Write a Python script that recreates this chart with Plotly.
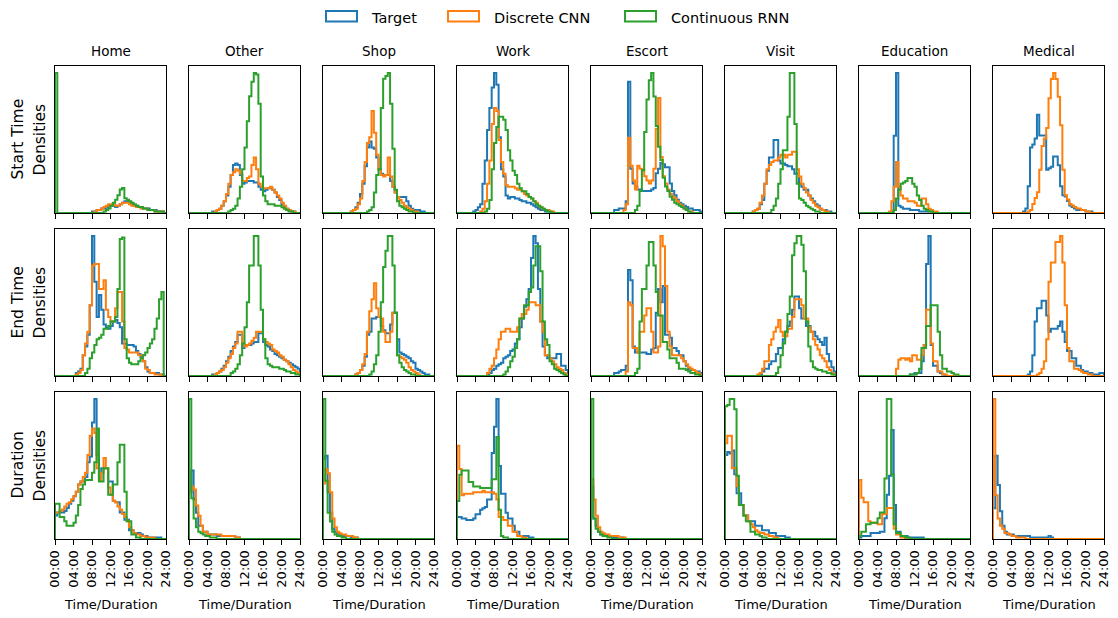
import plotly.graph_objects as go

# ---------------- data (30-minute bins, 48 bins over 0-24 h) ----------------
N_BINS = 48
BIN_HOURS = 0.5
COLUMNS = ["Home", "Other", "Shop", "Work", "Escort", "Visit", "Education", "Medical"]
ROWS = ["Start Time", "End Time", "Duration"]
ROW_SUB = "Densities"
SERIES = ["Target", "Discrete CNN", "Continuous RNN"]
COLORS = ["#1f77b4", "#ff7f0e", "#2ca02c"]
TICK_HOURS = [0, 4, 8, 12, 16, 20, 24]
TICK_LABELS = ["00:00", "04:00", "08:00", "12:00", "16:00", "20:00", "24:00"]
X_TITLE = "Time/Duration"


def bins(*chunks):
    """Histogram counts: each chunk is (first bin index, list of read values)."""
    v = [0] * N_BINS
    for start, vals in chunks:
        for k, val in enumerate(vals):
            v[start + k] = val
    return v


# ---- Start time ----
START_HOME_T = bins((16, [1,1,2,2,3,3,4,5,5,5,4,5,6,7,8,8,7,6,5,5,4,4,3,3,3,2,2,2,1,1,1]))
START_HOME_D = bins((17, [1,2,2,3,4,5,6,6,6,5,5,6,7,7,7,6,5,5,4,4,3,3,3,2,2,2,1,1,1,1]))
START_HOME_R = bins((0, [95]), (21, [1,2,3,5,7,9,12,16,17,10,9,8,7,6,5,4,4,3,3,2,2,2,1,1,1,1]))

START_OTHER_T = bins((10, [1,1,2,3,5,8,12,18,26,33,34,33,26,20,21,22,22,22,21,21,18,16,15,16,17,17,16,14,11,9,6,4,3,2,1,1]))
START_OTHER_D = bins((11, [1,2,3,5,8,13,20,26,28,30,29,27,22,22,24,25,33,38,30,20,18,17,17,17,18,16,14,12,10,7,5,3,2,1,1]))
START_OTHER_R = bins((17, [1,2,3,5,10,18,30,45,63,80,90,96,95,75,25,12,8,6,6,6,5,5,5,4,3,2,1,1]))

START_SHOP_T = bins((12, [1,2,4,7,13,20,32,45,49,45,44,38,30,27,26,26,26,22,18,14,11,11,11,11,8,5,3,2,2,2,1,1]))
START_SHOP_D = bins((12, [1,2,3,6,10,22,35,48,52,70,55,40,30,26,25,26,38,25,18,14,11,9,7,5,4,3,2,1,1]))
START_SHOP_R = bins((19, [1,2,4,14,26,30,72,92,94,96,75,44,16,8,5,4,3,2,1,1]))

START_WORK_T = bins((7, [1,2,4,6,20,36,57,72,86,96,88,52,30,25,12,10,11,11,10,10,9,8,8,7,7,6,5,4,3,2,2,1,1]))
START_WORK_D = bins((10, [1,3,8,20,36,61,72,70,50,35,27,19,18,18,18,17,16,16,15,13,12,11,10,8,7,5,4,3,2,2,1,1]))
START_WORK_R = bins((12, [1,3,9,30,48,59,66,66,64,57,43,36,29,26,20,17,15,15,13,11,10,8,6,5,4,3,2,1,1]))

START_ESCORT_T = bins((10, [2,2,3,3,3,8,89,30,20,18,16,16,15,15,15,15,16,17,27,30,34,33,31,31,20,15,12,9,7,6,5,4,3,3,2,2,2,1]))
START_ESCORT_D = bins((14, [2,6,51,32,22,16,32,30,29,25,22,20,22,30,57,78,38,25,20,16,13,11,10,8,6,5,3,2,1,1]))
START_ESCORT_R = bins((19, [2,5,15,29,55,77,90,95,79,59,45,36,24,18,15,11,9,7,6,5,4,3,2,1]))

START_VISIT_T = bins((12, [1,2,3,6,9,20,29,38,38,50,50,36,34,34,33,32,32,30,27,27,20,18,16,16,12,10,8,6,5,3,2,2,1,1]))
START_VISIT_D = bins((12, [1,2,3,7,12,20,30,33,35,36,36,38,40,40,38,40,40,42,42,30,25,20,17,14,12,9,7,5,4,3,2,1,1]))
START_VISIT_R = bins((20, [2,5,10,20,30,43,43,66,96,96,61,20,10,9,7,5,4,3,2,1,1]))

START_EDU_T = bins((14, [1,53,96,5,4,3,3,3,2,2,2,2,1,1,1,1,1,1]))
START_EDU_D = bins((13, [1,8,18,35,18,12,10,10,8,8,8,7,5,5,10,10,6,3,2,1,1]))
START_EDU_R = bins((15, [2,10,16,20,21,22,24,24,20,18,12,9,5,3,2,1,1]))

START_MED_T = bins((13, [1,3,18,44,46,50,66,52,52,52,29,30,31,38,38,32,18,12,11,8,5,4,3,2,2,2,2,1,1,1]))
START_MED_D = bins((15, [1,2,6,10,14,29,45,50,57,77,90,94,90,78,59,29,12,9,6,5,4,3,3,2,2,1,1]))

# ---- End time ----
END_HOME_T = bins((9, [2,3,5,14,20,28,48,95,64,40,55,45,35,33,32,34,37,38,36,33,22,22,21,21,21,20,17,15,13,10,6,3,2,2,2,2,1,1]))
END_HOME_D = bins((9, [1,2,4,14,22,30,48,75,76,76,59,59,65,45,40,37,37,46,57,57,37,19,18,16,16,16,16,14,14,10,5,4,2,2,1,1,1]))
END_HOME_R = bins((13, [2,5,12,16,21,25,26,28,32,32,34,37,37,40,59,93,94,25,12,9,8,8,8,10,12,14,16,19,22,25,32,39,52,57]))

END_OTHER_T = bins((10, [1,1,2,3,5,7,10,13,17,20,23,28,28,19,21,21,21,22,23,23,29,29,23,21,20,18,17,15,14,13,12,11,10,9,8,7,6,5]))
END_OTHER_D = bins((11, [1,2,3,4,6,9,12,15,19,22,30,30,22,20,21,22,24,26,30,30,30,25,23,22,21,18,17,16,14,13,11,10,8,6,4,3,2]))
END_OTHER_R = bins((18, [2,3,5,8,14,22,33,50,75,75,95,95,75,45,25,12,8,7,6,6,6,5,5,4,3,3,2,2,1,1]))

END_SHOP_T = bins((14, [1,2,4,7,13,28,30,39,39,40,40,34,31,29,29,35,43,43,25,16,15,14,13,12,10,9,5,4,3,2,1,1]))
END_SHOP_D = bins((14, [1,2,4,8,15,30,44,52,63,46,40,39,30,23,23,30,43,43,14,13,12,11,9,6,4,3,2,1]))
END_SHOP_R = bins((20, [1,3,8,14,30,50,74,85,95,95,75,43,14,9,6,4,3,2,1,1]))

END_WORK_T = bins((13, [1,2,4,5,7,8,9,12,13,14,17,18,22,25,33,39,47,52,59,80,95,90,59,37,20,14,12,12,12,12,15,15,7,7,4]))
END_WORK_D = bins((13, [2,5,7,12,18,25,30,30,32,32,30,30,30,33,39,42,42,45,50,50,50,48,48,37,30,14,14,12,10,8,6,5,4,2,1]))
END_WORK_R = bins((20, [1,3,6,10,13,19,25,39,39,48,48,57,60,75,88,88,71,37,25,21,10,8,5,4,3,2,1]))

END_ESCORT_T = bins((10, [2,2,3,4,4,7,72,65,20,16,16,16,16,16,15,15,18,19,43,59,50,61,28,28,26,19,19,17,14,14,10,7,5,4,4,3,3,2]))
END_ESCORT_D = bins((15, [3,50,48,19,19,16,30,30,41,46,46,30,16,16,20,95,88,61,30,20,14,14,14,14,12,10,8,6,5,4,3,2,1]))
END_ESCORT_R = bins((19, [2,5,37,59,59,75,91,91,75,57,41,41,23,23,18,12,12,12,9,5,5,5,4,3,2,2,1,1]))

END_VISIT_T = bins((15, [1,3,5,5,8,10,10,15,19,19,25,30,34,37,45,54,54,46,39,39,34,34,30,30,27,25,23,21,26,15,10,6,3]))
END_VISIT_D = bins((14, [1,2,5,10,10,21,25,30,33,38,30,27,27,32,32,40,52,52,52,48,39,39,33,30,25,21,18,14,12,10,6,4,2,1]))
END_VISIT_R = bins((22, [2,6,14,22,30,42,54,82,90,95,95,89,71,37,20,10,6,5,4,4,3,3,2,2,1,1]))

END_EDU_T = bins((22, [1,1,2,2,2,10,21,76,95,21,7,7,3,2,1]))
END_EDU_D = bins((16, [5,11,12,12,11,12,10,14,14,11,11,14,21,45,45,22,10,10,3,3,1,1]))
END_EDU_R = bins((22, [1,1,1,2,5,19,19,34,34,48,48,48,30,14,5,5,3,3,2,1,1]))

END_MED_T = bins((15, [1,3,14,37,46,46,51,51,41,30,32,32,32,34,37,30,23,17,17,12,12,7,7,4,3,3,2,2,1,1,1,2,2]))
END_MED_D = bins((19, [1,2,5,10,25,64,77,77,91,91,95,77,48,19,10,10,5,5,4,3,2,2,1,1]))

# ---- Duration ----
DUR_HOME_T = bins((0, [16,18,18,18,19,21,24,26,29,32,37,39,39,42,52,56,79,95,57,41,48,48,48,39,39,26,25,25,18,18,13,13,6,6,4,4,4,3,2,2,1,1,1,1,1,1]))
DUR_HOME_D = bins((0, [18,18,19,20,22,24,25,27,29,32,37,39,42,45,57,70,75,72,48,40,45,55,48,35,30,26,25,22,20,17,15,12,8,6,4,3,3,2,2,1,1,1,1]))
DUR_HOME_R = bins((0, [24,24,15,15,12,9,9,9,11,16,23,34,37,40,40,40,45,52,75,39,39,48,48,30,30,37,37,52,64,64,32,12,12,3,3,1,1]))

DUR_OTHER_T = bins((0, [32,47,27,18,9,9,5,5,3,3,3,3,2,2,2,2,2,2,2,2,1,1]))
DUR_OTHER_D = bins((0, [32,36,34,23,16,9,5,5,3,3,3,3,3,3,2,2,2,2,2,2,1,1]))
DUR_OTHER_R = bins((0, [96,28,14,8,5,4,3,2,2,1,1,1]))

DUR_SHOP_T = bins((0, [55,57,32,18,7,5,4,3,2,2,2,2,1,1,1]))
DUR_SHOP_D = bins((0, [38,48,45,32,14,8,5,4,3,3,2,2,2,1,1]))
DUR_SHOP_R = bins((0, [96,40,18,12,5,3,2,2,1,1]))

DUR_WORK_T = bins((0, [15,15,14,14,13,13,13,14,17,17,20,21,22,27,27,59,77,96,50,31,31,18,14,14,9,5,5,2,2,2,2,1,1]))
DUR_WORK_D = bins((0, [64,48,30,31,31,31,31,32,32,32,32,33,32,32,32,32,31,27,15,15,13,13,9,9,5,5,2,2,1,1]))
DUR_WORK_R = bins((0, [26,44,47,47,47,39,39,36,36,36,35,35,35,35,35,41,41,70,20,2,1,1]))

DUR_ESCORT_T = bins((0, [36,14,9,5,3,3,2,2,2,1,1,1,1,1]))
DUR_ESCORT_D = bins((0, [41,27,16,8,5,4,3,3,2,2,2,2,1,1,1]))
DUR_ESCORT_R = bins((0, [96,14,7,5,3,2,2,1,1]))

DUR_VISIT_T = bins((0, [57,59,58,60,44,31,31,23,16,16,12,12,12,9,9,9,6,6,6,4,4,4,2,2,2,2,1,1]))
DUR_VISIT_D = bins((0, [65,70,70,48,48,36,23,23,16,16,12,10,8,6,5,4,4,3,3,2,2,1,1]))
DUR_VISIT_R = bins((0, [90,91,95,95,88,43,23,23,16,12,12,5,5,3,3,2,1,1]))

DUR_EDU_T = bins((0, [1,2,2,2,2,4,4,4,4,5,5,14,30,43,74,23,5,5,2,2,2,1,1,1,1,1,1,1]))
DUR_EDU_D = bins((0, [40,28,25,25,12,11,11,11,10,10,17,17,21,21,21,7,3,3,1,1]))
DUR_EDU_R = bins((0, [2,5,5,10,10,11,11,11,14,18,18,41,95,95,44,10,4,4,2,2,1,1]))

DUR_MED_T = bins((0, [21,57,37,19,9,5,3,3,3,2,2,2,2,2,2,2,1,1,1,1,1,1,1,1,2,1]))
DUR_MED_D = bins((0, [96,30,14,9,7,4,4,3,2,2,1,1,1,1]))

PANELS = [
    [  # start
        (START_HOME_T, START_HOME_D, START_HOME_R),
        (START_OTHER_T, START_OTHER_D, START_OTHER_R),
        (START_SHOP_T, START_SHOP_D, START_SHOP_R),
        (START_WORK_T, START_WORK_D, START_WORK_R),
        (START_ESCORT_T, START_ESCORT_D, START_ESCORT_R),
        (START_VISIT_T, START_VISIT_D, START_VISIT_R),
        (START_EDU_T, START_EDU_D, START_EDU_R),
        (START_MED_T, START_MED_D, None),
    ],
    [  # end
        (END_HOME_T, END_HOME_D, END_HOME_R),
        (END_OTHER_T, END_OTHER_D, END_OTHER_R),
        (END_SHOP_T, END_SHOP_D, END_SHOP_R),
        (END_WORK_T, END_WORK_D, END_WORK_R),
        (END_ESCORT_T, END_ESCORT_D, END_ESCORT_R),
        (END_VISIT_T, END_VISIT_D, END_VISIT_R),
        (END_EDU_T, END_EDU_D, END_EDU_R),
        (END_MED_T, END_MED_D, None),
    ],
    [  # duration
        (DUR_HOME_T, DUR_HOME_D, DUR_HOME_R),
        (DUR_OTHER_T, DUR_OTHER_D, DUR_OTHER_R),
        (DUR_SHOP_T, DUR_SHOP_D, DUR_SHOP_R),
        (DUR_WORK_T, DUR_WORK_D, DUR_WORK_R),
        (DUR_ESCORT_T, DUR_ESCORT_D, DUR_ESCORT_R),
        (DUR_VISIT_T, DUR_VISIT_D, DUR_VISIT_R),
        (DUR_EDU_T, DUR_EDU_D, DUR_EDU_R),
        (DUR_MED_T, DUR_MED_D, None),
    ],
]

# ---------------- layout geometry (page pixels) ----------------
PAGE_OFFSET = 8            # default body margin of the html page
W, H = 1110, 610           # figure size: fills the window to its right/bottom edge
FONT = "DejaVu Sans"
COL_LEFT0, COL_STEP, COL_W = 55, 134, 111
ROW_TOP0, ROW_STEP, ROW_H = 66, 163, 147


def px_x(p):
    return (p - PAGE_OFFSET) / W


def px_y(p):
    return 1 - (p - PAGE_OFFSET) / H


fig = go.Figure()
edges = [i * BIN_HOURS for i in range(N_BINS + 1)]
annotations = []
layout = {}

for r in range(3):
    for c in range(8):
        k = r * 8 + c + 1
        xa = "x" if k == 1 else f"x{k}"
        ya = "y" if k == 1 else f"y{k}"
        left = COL_LEFT0 + COL_STEP * c
        top = ROW_TOP0 + ROW_STEP * r
        series = PANELS[r][c]
        ymax = max(max(s) for s in series if s is not None)
        for si, vals in enumerate(series):
            if vals is None:
                continue
            xs = [edges[0]] + edges[:-1] + [edges[-1], edges[-1]]
            ys = [0] + list(vals) + [vals[-1], 0]
            fig.add_trace(go.Scatter(
                x=xs, y=ys, mode="lines", line=dict(color=COLORS[si], width=2, shape="hv"),
                name=SERIES[si], showlegend=False, xaxis=xa, yaxis=ya, hoverinfo="skip"))
        layout["xaxis" if k == 1 else f"xaxis{k}"] = dict(
            domain=[px_x(left), px_x(left + COL_W)], anchor=ya, range=[0, 24],
            showline=True, mirror=True, linecolor="black", linewidth=1,
            showgrid=False, zeroline=False, ticks="outside", ticklen=5, tickwidth=1,
            tickcolor="black", tickvals=TICK_HOURS, ticktext=TICK_LABELS,
            showticklabels=(r == 2), tickangle=-90,
            tickfont=dict(family=FONT, size=13, color="black"), automargin=False)
        layout["yaxis" if k == 1 else f"yaxis{k}"] = dict(
            domain=[px_y(top + ROW_H), px_y(top)], anchor=xa, range=[0, ymax * 1.05],
            showline=True, mirror=True, linecolor="black", linewidth=1,
            showgrid=False, zeroline=False, ticks="", showticklabels=False, automargin=False)
        if r == 0:
            annotations.append(dict(
                text=COLUMNS[c], x=px_x(left + COL_W / 2), y=px_y(51), xref="paper", yref="paper",
                showarrow=False, xanchor="center", yanchor="middle",
                font=dict(family=FONT, size=13.5, color="black")))
        if r == 2:
            annotations.append(dict(
                text=X_TITLE, x=px_x(left + COL_W / 2), y=px_y(604), xref="paper", yref="paper",
                showarrow=False, xanchor="center", yanchor="middle",
                font=dict(family=FONT, size=13, color="black")))
    ymid = ROW_TOP0 + ROW_STEP * r + ROW_H / 2
    for txt, xp in ((ROWS[r], 17), (ROW_SUB, 39)):
        annotations.append(dict(
            text=txt, x=px_x(xp), y=px_y(ymid), xref="paper", yref="paper", textangle=-90,
            showarrow=False, xanchor="center", yanchor="middle",
            font=dict(family=FONT, size=15.5, color="black")))

# legend (outlined patches, like matplotlib step-histogram handles)
shapes = []
LEG_ITEMS = [(326, 369), (448, 492), (625, 669)]
for si, (px0, tx) in enumerate(LEG_ITEMS):
    shapes.append(dict(type="rect", xref="paper", yref="paper",
                       x0=px_x(px0), x1=px_x(px0 + 31), y0=px_y(21.5), y1=px_y(11),
                       line=dict(color=COLORS[si], width=2), fillcolor="rgba(0,0,0,0)"))
    annotations.append(dict(
        text=SERIES[si], x=px_x(tx), y=px_y(17.5), xref="paper", yref="paper",
        showarrow=False, xanchor="left", yanchor="middle",
        font=dict(family=FONT, size=14.5, color="black")))

fig.update_layout(
    width=W, height=H, margin=dict(l=0, r=0, t=0, b=0, pad=0),
    paper_bgcolor="white", plot_bgcolor="white", showlegend=False,
    annotations=annotations, shapes=shapes, **layout)

fig.write_html("out.html")
